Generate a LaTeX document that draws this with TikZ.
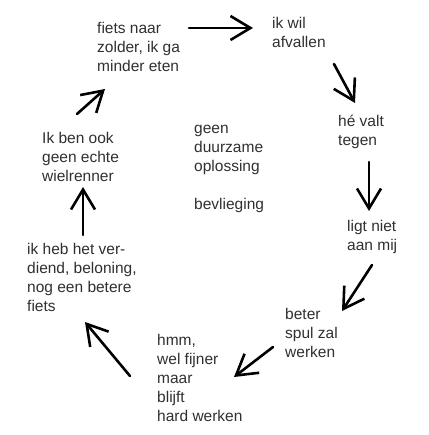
\documentclass[tikz,border=0pt]{standalone}
\usepackage{fontspec}
\setmainfont{Liberation Sans}
\usetikzlibrary{arrows.meta}
\definecolor{txt}{HTML}{303030}
\newcommand{\lines}[1]{\begin{tabular}[t]{@{}l@{}}#1\end{tabular}}
\begin{document}
\begin{tikzpicture}[x=1pt,y=-1pt,
  lbl/.style={anchor=base west, inner sep=0pt, font=\fontsize{15.5}{19}\selectfont, text=txt},
  arr/.style={line width=2.6pt, line cap=round, -{Straight Barb[length=20pt,width=24pt]}}]
\useasboundingbox (0,0) rectangle (428,435);
\fill[white] (0,0) rectangle (428,435);
% text nodes
\node[lbl] (fiets) at (97,34) {\lines{fiets naar\\zolder, ik ga\\minder eten}};
\node[lbl] (wil) at (272,29) {\lines{ik wil\\afvallen}};
\node[lbl] (valt) at (338,127) {\lines{hé valt\\tegen}};
\node[lbl] (ben) at (42,144) {\lines{Ik ben ook\\geen echte\\wielrenner}};
\node[lbl] (geen) at (194,134) {\lines{geen\\duurzame\\oplossing}};
\node[lbl] (bevl) at (194,210) {bevlieging};
\node[lbl] (ligt) at (347,231) {\lines{ligt niet\\aan mij}};
\node[lbl] (heb) at (27,254) {\lines{ik heb het ver-\\diend, beloning,\\nog een betere\\fiets}};
\node[lbl] (beter) at (285,319) {\lines{beter\\spul zal\\werken}};
\node[lbl] (hmm) at (157,345) {\lines{hmm,\\wel fijner\\maar\\blijft\\hard werken}};
% arrow ends
\coordinate (a1s) at (189,28);  \coordinate (a1e) at (253,28);
\coordinate (a2s) at (334,64);  \coordinate (a2e) at (355,103);
\coordinate (a3s) at (369,162); \coordinate (a3e) at (369,211);
\coordinate (a4s) at (372,265); \coordinate (a4e) at (342,311);
\coordinate (a5s) at (273,347); \coordinate (a5e) at (234,377);
\coordinate (a6s) at (130,376); \coordinate (a6e) at (85,322);
\coordinate (a7s) at (83,235);  \coordinate (a7e) at (83,187);
\coordinate (a8s) at (77,114);  \coordinate (a8e) at (105,89);
\draw[arr] (a1s) -- (a1e);
\draw[arr] (a2s) -- (a2e);
\draw[arr] (a3s) -- (a3e);
\draw[arr] (a4s) -- (a4e);
\draw[arr] (a5s) -- (a5e);
\draw[arr] (a6s) -- (a6e);
\draw[arr] (a7s) -- (a7e);
\draw[arr] (a8s) -- (a8e);
\end{tikzpicture}
\end{document}
